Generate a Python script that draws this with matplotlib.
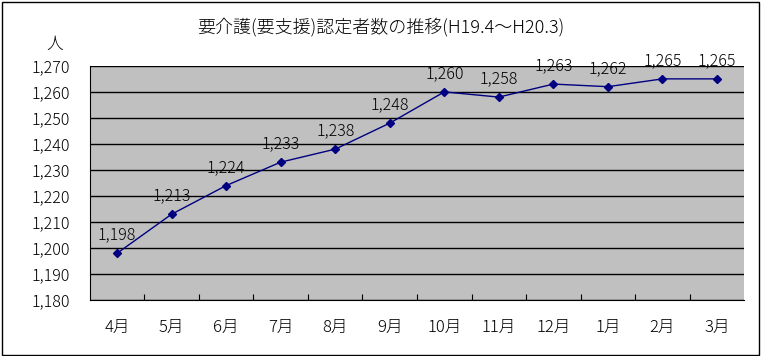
import matplotlib.pyplot as plt
from matplotlib.patches import Rectangle

plt.rcParams['font.family'] = ['Noto Sans CJK JP', 'DejaVu Sans']

months = ['4月', '5月', '6月', '7月', '8月', '9月', '10月', '11月', '12月', '1月', '2月', '3月']
counts = [1198, 1213, 1224, 1233, 1238, 1248, 1260, 1258, 1263, 1262, 1265, 1265]
yticks = [1180, 1190, 1200, 1210, 1220, 1230, 1240, 1250, 1260, 1270]

fig = plt.figure(figsize=(7.61, 3.56), dpi=100)
ax = fig.add_axes([0.118, 0.157, 0.86, 0.658])
ax.set_facecolor('#c0c0c0')

x = [i + 0.5 for i in range(len(months))]
ax.plot(x, counts, color='#000080', lw=1, marker='D', ms=4, zorder=3)
for xi, v in zip(x, counts):
    ax.annotate(f'{v:,}', (xi, v), xytext=(0, 7), textcoords='offset points',
                ha='center', va='bottom', fontsize=11.5, fontweight='light')

ax.set_xlim(0, len(months))
ax.set_ylim(1180, 1270)
ax.set_yticks(yticks)
ax.set_yticklabels([f'{v:,}' for v in yticks], fontsize=11.5, fontweight='light')
ax.yaxis.grid(True, color='black', lw=1)
ax.set_axisbelow(True)
ax.tick_params(axis='y', length=0, pad=14)

ax.set_xticks(range(1, len(months)))
ax.set_xticklabels([])
ax.set_xticks(x, minor=True)
ax.set_xticklabels(months, minor=True, fontsize=12, fontweight='light')
ax.tick_params(axis='x', which='major', direction='in', length=4, color='black')
ax.tick_params(axis='x', which='minor', length=0, pad=14)

for s in ['top', 'right']:
    ax.spines[s].set_visible(False)
for s in ['left', 'bottom']:
    ax.spines[s].set_color('black')

fig.text(0.5, 0.925, '要介護(要支援)認定者数の推移(H19.4〜H20.3)', ha='center', va='center',
         fontsize=13, fontweight='light')
fig.text(0.072, 0.875, '人', ha='center', va='center', fontsize=12, fontweight='light')

fig.patches.append(Rectangle((0.002, 0.004), 0.995, 0.99, transform=fig.transFigure,
                             fill=False, edgecolor='black', lw=1))

fig.savefig('out.png', dpi=100)
